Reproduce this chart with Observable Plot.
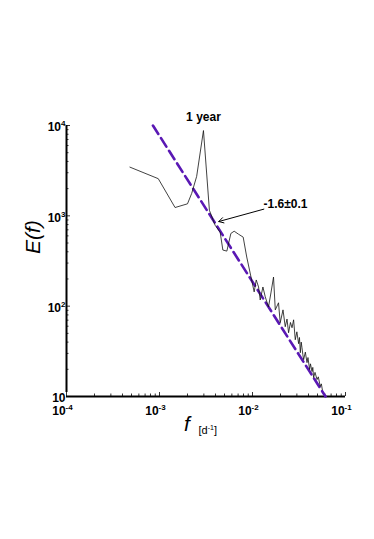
<!DOCTYPE html>
<html><head><meta charset="utf-8">
<script src="https://cdn.jsdelivr.net/npm/d3@7"></script>
<script src="https://cdn.jsdelivr.net/npm/@observablehq/plot@0.6"></script>
<style>body{margin:0;background:#fff} svg{display:block}</style>
</head><body><div id="chart"></div>
<script>
// spectrum E(f)
const freq = [4.81e-4, 9.70e-4, 1.47e-3, 2.0e-3, 2.22e-3, 2.51e-3, 2.97e-3, 3.44e-3, 3.96e-3, 4.49e-3,
  4.80e-3, 5.30e-3, 5.85e-3, 6.35e-3, 7.06e-3, 7.94e-3, 8.67e-3, 9.87e-3, 0.01042, 0.01097,
  0.01162, 0.01211, 0.01294, 0.01371, 0.01486, 0.01578, 0.01683, 0.01758, 0.01905, 0.01986,
  0.02128, 0.02249, 0.02350, 0.02443, 0.02560, 0.02661, 0.02767, 0.02884, 0.03000, 0.03133,
  0.03200, 0.03266, 0.03340, 0.03404, 0.03480, 0.03548, 0.03700, 0.03855, 0.03950, 0.04111,
  0.04200, 0.04365, 0.04450, 0.04539, 0.04700, 0.04943, 0.05100, 0.05357, 0.05500, 0.05636];
const energy = [3460, 2578, 1236, 1358, 1774, 2735, 8790, 1153, 787, 659,
  418, 407, 638, 676, 627, 581, 350, 187, 144, 195,
  163, 117, 163, 127, 98, 140, 210, 91, 109, 65.5,
  91, 59.2, 72, 50.8, 66, 57.7, 70.6, 42.5, 52, 38.4,
  45, 30.5, 40, 34.7, 29, 25.6, 31, 23.7, 27, 19.9,
  23, 18.9, 21, 16.2, 18.5, 15.4, 16.5, 12.9, 13.8, 11.9];

// fitted power law (slope -1.6)
const fitFreq = [8.5e-4, 0.061];
const fitEnergy = [1e4, 10];

// ticks
const xTicks = [1e-4, 1e-3, 1e-2, 1e-1];
const xTickLabels = ["10^{-4}", "10^{-3}", "10^{-2}", "10^{-1}"];
const yTicks = [10, 100, 1000, 10000];
const yTickLabels = ["10", "10^{2}", "10^{3}", "10^{4}"];

// annotations
const peakNote = ["1 year"];
const peakNoteF = [2.97e-3];
const peakNoteE = [1e4];
const slopeNote = ["-1.6±0.1"];
const slopeNoteF = [0.0226];
const slopeNoteE = [1358];
const arrowFrom = [0.01324, 1186];
const arrowTo = [4.34e-3, 865];

const yTitle = "E(f)";
const xTitle = "f";
const xUnit = "[d^{-1}]";

const spectrum = freq.map((f, i) => ({f, E: energy[i]}));
const fit = fitFreq.map((f, i) => ({f, E: fitEnergy[i]}));
const xMinor = [], yMinor = [];
for (let d = -4; d < -1; d++) for (let k = 2; k <= 9; k++) xMinor.push(k * Math.pow(10, d));
for (let d = 1; d < 4; d++) for (let k = 2; k <= 9; k++) yMinor.push(k * Math.pow(10, d));

const bold = "bold";
const chart = Plot.plot({
  width: 374, height: 539,
  marginLeft: 66, marginRight: 29, marginTop: 125, marginBottom: 143,
  style: {fontFamily: "'Liberation Sans', Arial, Helvetica, sans-serif", background: "#fff", overflow: "visible"},
  x: {type: "log", domain: [1e-4, 1e-1], axis: null},
  y: {type: "log", domain: [10, 1e4], axis: null},
  marks: [
    Plot.axisX({anchor: "bottom", ticks: xMinor, tickSize: -2.5, tickFormat: () => "", label: null, strokeWidth: 0.8}),
    Plot.axisX({anchor: "bottom", ticks: xTicks, tickSize: -4, tickFormat: () => "", label: null, strokeWidth: 0.8}),
    Plot.axisY({anchor: "left", ticks: yMinor, tickSize: -2.5, tickFormat: () => "", label: null, strokeWidth: 0.8}),
    Plot.axisY({anchor: "left", ticks: yTicks, tickSize: -4, tickFormat: () => "", label: null, strokeWidth: 0.8}),
    Plot.ruleY([10], {x1: 1e-4, x2: 1e-1, stroke: "#000", strokeWidth: 2}),
    Plot.ruleX([1e-4], {y1: 10, y2: 1e4, insetTop: -4, stroke: "#000", strokeWidth: 2}),
    Plot.text(xTicks, {x: d => d, y: () => 10, text: (d, i) => xTickLabels[i], dy: 14.5, dx: -4,
      fontSize: 12, fontWeight: bold, fill: "#000"}),
    Plot.text(yTicks, {x: () => 1e-4, y: d => d, text: (d, i) => yTickLabels[i], dy: 2, dx: -1,
      textAnchor: "end", fontSize: 12, fontWeight: bold, fill: "#000"}),
    Plot.line(fit, {x: "f", y: "E", stroke: "#5a18b4", strokeWidth: 2.6, strokeDasharray: "10,5"}),
    Plot.line(spectrum, {x: "f", y: "E", stroke: "#111", strokeWidth: 0.8}),
    Plot.text(peakNote, {x: (d, i) => peakNoteF[i], y: (d, i) => peakNoteE[i], text: d => d, dy: -8,
      fontSize: 12, fontWeight: bold, fill: "#000"}),
    Plot.text(slopeNote, {x: (d, i) => slopeNoteF[i], y: (d, i) => slopeNoteE[i], text: d => d,
      fontSize: 12, fontWeight: bold, fill: "#000"}),
    Plot.arrow([0], {x1: () => arrowFrom[0], y1: () => arrowFrom[1], x2: () => arrowTo[0], y2: () => arrowTo[1],
      stroke: "#000", strokeWidth: 1, headLength: 8}),
    Plot.text([yTitle], {frameAnchor: "left", dx: -33, dy: -7, rotate: -90, fontSize: 21,
      fontStyle: "italic", fill: "#000"}),
    Plot.text([xTitle], {frameAnchor: "bottom", dx: -19, dy: 34, fontSize: 21,
      fontStyle: "italic", fill: "#000"}),
    Plot.text([xUnit], {frameAnchor: "bottom", dx: -7.5, dy: 37, textAnchor: "start", fontSize: 11,
      fill: "#000"})
  ]
});

// turn "base^{sup}" into real superscript tspans
chart.querySelectorAll("text").forEach(t => {
  const s = t.textContent;
  if (s.indexOf("^{") < 0) return;
  const small = s.startsWith("[");
  const supSize = small ? 7 : 8, shift = small ? 4 : 5;
  const parts = s.split(/\^\{([^}]*)\}/);
  t.textContent = "";
  let raised = 0;
  parts.forEach((p, i) => {
    if (!p) return;
    const ts = document.createElementNS("http://www.w3.org/2000/svg", "tspan");
    if (i % 2 === 1) {
      ts.setAttribute("dy", String(-shift));
      ts.setAttribute("font-size", supSize);
      raised = shift;
    } else if (raised) {
      ts.setAttribute("dy", String(raised));
      raised = 0;
    }
    ts.textContent = p;
    t.appendChild(ts);
  });
});
document.getElementById("chart").appendChild(chart);
</script>
</body></html>
